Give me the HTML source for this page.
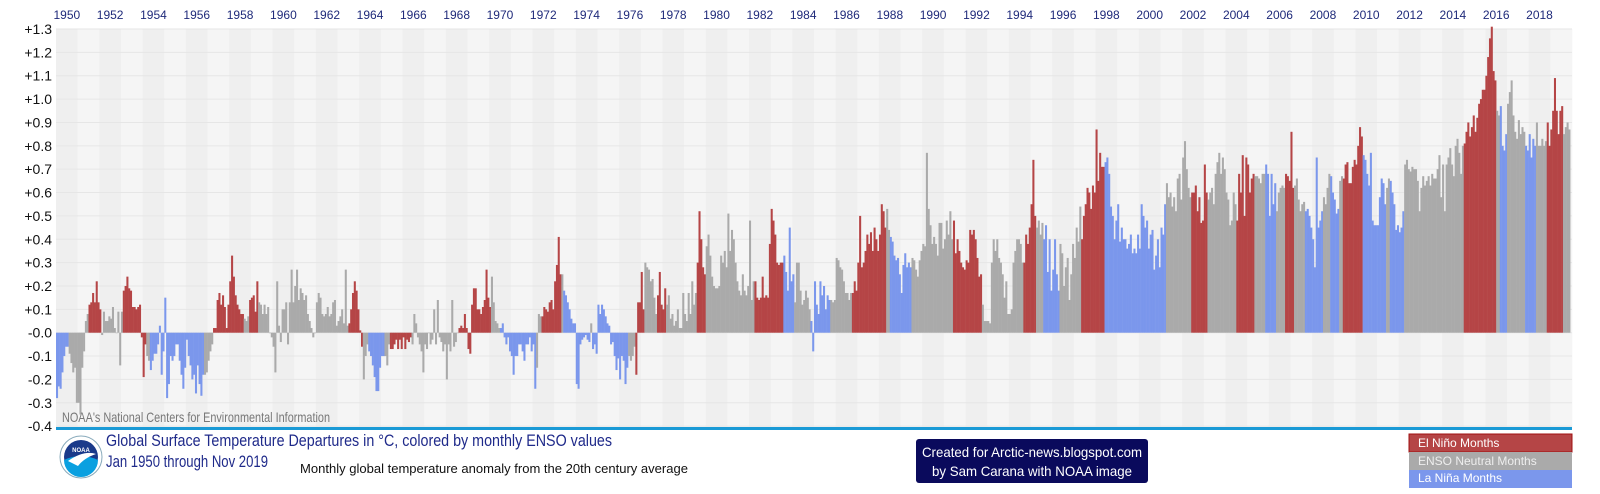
<!DOCTYPE html>
<html><head><meta charset="utf-8"><style>
body{margin:0;background:#fff;width:1600px;height:494px;overflow:hidden;font-family:"Liberation Sans",sans-serif}
svg{display:block}
</style></head><body>
<svg id="chart" width="1600" height="494" viewBox="0 0 1600 494" xmlns="http://www.w3.org/2000/svg">
<g id="bg"></g>
<g id="grid"></g>
<g id="bars"></g>
<g id="xt" font-size="12" fill="#1f2a7a" text-anchor="middle"></g>
<g id="yt" font-size="14" fill="#111" text-anchor="end"></g>
<text x="62" y="422" font-size="14" fill="#777" textLength="268" lengthAdjust="spacingAndGlyphs">NOAA's National Centers for Environmental Information</text>
<rect x="56" y="427" width="1516" height="3" fill="#1a9ad6"/>
<g>
<circle cx="81" cy="457" r="21" fill="#fff" stroke="#8ab" stroke-width="1"/>
<circle cx="81" cy="457" r="17" fill="#1a3a8a"/>
<path d="M64 460 Q81 452 98 460 A17 17 0 0 1 64 460Z" fill="#0aa0e0"/>
<path d="M68 461 Q84 450 96 454 Q84 458 78 466Z" fill="#fff"/>
<text x="81" y="452" font-size="6" fill="#fff" text-anchor="middle" font-weight="bold">NOAA</text>
</g>
<text x="106" y="446" font-size="17" fill="#1f2a8a" textLength="506" lengthAdjust="spacingAndGlyphs">Global Surface Temperature Departures in °C, colored by monthly ENSO values</text>
<text x="106" y="467" font-size="17" fill="#1f2a8a" textLength="162" lengthAdjust="spacingAndGlyphs">Jan 1950 through Nov 2019</text>
<text x="300" y="473" font-size="13" fill="#111" textLength="388" lengthAdjust="spacingAndGlyphs">Monthly global temperature anomaly from the 20th century average</text>
<g>
<rect x="916" y="439" width="232" height="44" rx="3" fill="#0a0a5c"/>
<text x="1032" y="457" font-size="14" fill="#fff" text-anchor="middle" textLength="220" lengthAdjust="spacingAndGlyphs">Created for Arctic-news.blogspot.com</text>
<text x="1032" y="476" font-size="14" fill="#fff" text-anchor="middle" textLength="200" lengthAdjust="spacingAndGlyphs">by Sam Carana with NOAA image</text>
</g>
<g font-size="12" fill="#fff">
<rect x="1409" y="434" width="163" height="18" fill="#b54546" stroke="#a01010"/>
<text x="1418" y="447">El Niño Months</text>
<rect x="1409" y="452" width="163" height="18" fill="#aaaaaa"/>
<text x="1418" y="465" fill="#eee">ENSO Neutral Months</text>
<rect x="1409" y="470" width="163" height="18" fill="#7b97ec"/>
<text x="1418" y="482">La Niña Months</text>
</g>
</svg>
<script>
const startYear = 1950;
const yTicks = [1.3,1.2,1.1,1.0,0.9,0.8,0.7,0.6,0.5,0.4,0.3,0.2,0.1,0.0,-0.1,-0.2,-0.3,-0.4];
const yTickLabels = ["+1.3","+1.2","+1.1","+1.0","+0.9","+0.8","+0.7","+0.6","+0.5","+0.4","+0.3","+0.2","+0.1","-0.0","-0.1","-0.2","-0.3","-0.4"];
const xTickYears = [1950,1952,1954,1956,1958,1960,1962,1964,1966,1968,1970,1972,1974,1976,1978,1980,1982,1984,1986,1988,1990,1992,1994,1996,1998,2000,2002,2004,2006,2008,2010,2012,2014,2016,2018];
// monthly anomalies in hundredths of °C, Jan 1950 – Nov 2019
const anomaly = [
-28,-23,-24,-17,-10,-6,-6,-9,-13,-17,-15,-30,
-30,-35,-15,-8,5,8,12,13,17,13,22,13,
10,-1,9,5,5,7,6,11,2,0,9,-14,
9,18,20,24,19,18,11,11,10,11,12,-2,
-19,-5,-10,-12,-16,-12,-9,-9,-5,3,-18,-8,
15,-28,-22,-10,-12,-10,-5,-5,-12,-18,-24,-15,
-3,-10,-14,-20,-18,-26,-14,-22,-27,-18,-18,-17,
-12,-8,-5,2,2,14,17,12,16,11,2,12,
22,33,24,16,12,10,8,8,6,5,7,14,
15,16,9,22,13,12,8,12,8,11,0,-2,
-6,-17,22,3,-4,10,10,13,-5,13,27,13,
20,27,14,19,17,14,16,8,5,2,-2,0,
13,17,15,8,7,8,11,7,8,13,14,3,
5,7,10,4,27,3,4,10,17,22,18,10,
1,-6,-20,-10,-5,-8,-10,-14,-19,-25,-25,-15,
-10,-10,-10,-14,-5,-7,-7,-5,-3,-7,-3,-7,
-2,-7,-3,-4,-2,-5,8,4,-2,-5,-8,-17,
-5,-7,0,-5,-3,10,-5,14,-2,-4,-8,-5,
-20,-5,-8,14,-6,-4,0,2,3,2,8,2,
-7,-9,12,19,19,10,10,8,11,14,27,15,
11,24,13,5,4,2,2,4,-2,-5,-2,-8,
-10,-18,-10,-10,-5,-5,-8,-12,-5,-5,-2,-8,
-5,-24,-15,8,7,7,11,10,9,13,14,10,
22,29,41,25,25,18,16,13,10,6,4,4,
-22,-24,-5,-3,-2,-1,-3,-4,4,-7,-5,-9,
12,8,12,10,7,4,3,-5,-4,-10,-16,-11,
-20,-10,-12,-22,-15,-10,-12,-10,-6,-18,13,13,
26,10,30,28,27,22,23,15,8,16,26,12,
10,19,12,16,6,8,3,5,10,2,2,17,
8,5,17,8,22,12,17,30,52,40,28,25,
37,42,33,24,20,19,19,20,33,30,35,28,
51,35,44,40,30,22,18,16,25,18,16,20,
48,14,22,22,15,14,15,24,15,16,15,38,
53,48,42,30,29,30,30,33,26,18,45,22,
25,13,30,30,18,12,14,18,15,10,5,-8,
22,12,8,22,16,20,10,16,14,14,13,14,
32,31,28,27,22,17,17,14,17,17,22,18,
30,50,28,30,35,42,38,43,35,45,40,35,
42,55,52,45,53,44,41,39,33,31,32,25,
17,29,34,28,30,28,32,31,27,24,31,35,
38,37,77,53,46,38,41,38,33,47,47,36,
40,48,42,52,40,48,34,40,35,30,28,27,
31,30,44,42,44,40,32,24,25,12,5,5,
5,4,30,40,35,40,32,30,25,15,22,8,
8,10,30,35,40,40,38,30,30,42,38,45,
55,74,50,45,48,42,47,40,46,26,40,18,
27,40,25,18,38,34,20,28,32,14,25,38,
32,45,39,54,40,50,55,62,60,53,63,60,
87,65,77,71,71,73,75,68,54,50,40,48,
55,39,45,40,40,36,38,42,34,36,34,42,
36,55,50,45,48,36,42,44,27,33,40,28,
45,42,55,64,58,60,54,58,52,66,68,57,
75,82,70,62,58,60,60,63,52,58,47,48,
72,60,57,60,62,55,68,73,77,68,75,70,
60,57,46,48,60,55,48,68,60,76,50,75,
72,60,66,68,67,67,66,64,68,68,72,68,
50,68,55,64,52,60,62,63,62,68,67,65,
86,62,63,66,57,52,55,56,52,53,50,45,
40,28,75,45,48,52,58,55,62,68,67,60,
57,51,53,65,67,66,72,73,64,64,71,74,
72,80,88,84,76,74,68,63,77,48,46,46,
46,58,66,64,55,62,66,65,60,55,44,46,
43,45,52,72,74,70,69,71,70,70,65,52,
62,67,63,65,67,63,68,66,66,70,76,58,
72,52,72,75,79,72,67,80,83,77,68,80,
81,86,90,84,88,93,86,92,98,100,104,104,
110,118,126,131,112,108,95,93,97,80,78,85,
98,103,108,93,86,83,91,85,88,86,80,78,
85,75,83,80,90,80,80,83,80,82,90,80,
87,95,109,95,85,95,97,85,88,90,87
];
// ENSO phase per month: E = El Niño, N = neutral, L = La Niña
const phase = (
"LLLLLLLNNNNN"+"NNNNNNEEEEEE"+"ENNNNNNNNNNN"+"NEEEEEEEEEEE"+"EENNLLLLLLLL"+
"LLLLLLLLLLLL"+"LLLLLLLLLLNN"+"NNNEEEEEEEEE"+"EEEEEEEENNNE"+"EEEENNNNNNNN"+
"NNNNNNNNNNNN"+"NNNNNNNNNNNN"+"NNNNNNNNNNNN"+"NNNNNNEEEEEE"+"EENNNLLLLLLL"+
"LLNNNEEEEEEE"+"EEEEENNNNNNN"+"NNNNNNNNNNNN"+"NNNNNNNEEEEE"+"EEEEEEEEEEEE"+
"ENNNNNLLLLLL"+"LLLLLLLLLLLL"+"LLNNNEEEEEEE"+"EEEENLLLLLLL"+"LLLLLLLLNLLL"+
"LLLLLLLLLLLL"+"LLLLLNNNNEEE"+"EENNNNNNNEEE"+"EENNNNNNNNNN"+"NNNNNNNEEEEE"+
"NNNNNNNNNNNN"+"NNNNNNNNNNNN"+"NNNEEEEEEEEE"+"EEEEEEELLLLL"+"LNNNNNNNNNLL"+
"LLLLLLLLLNNN"+"NNNNNNNNNEEE"+"EEEEEEEEEEEE"+"EEEENNLLLLLL"+"LLLLLLNNNNNN"+
"NNNNNNNNNNNN"+"NNNNNEEEEEEE"+"EEEEEEEEENNN"+"NNNNNNNNNNNN"+"NNNNNNNNEEEE"+
"EEENNNNLLLLL"+"LLLLNNNNNNNN"+"NNNNEEEEEEEE"+"EEEEELLLLLLL"+"LLLLLLLLLLLL"+
"LLLLLLLLLLLL"+"LLLNNNNNNNNN"+"NNNNNEEEEEEE"+"EENNNNNNNNNN"+"NNNNNNEEEEEE"+
"EEEENNNNNNLL"+"LLLLNNNNNEEE"+"EENNNNNNLLLL"+"LLLLLLNNNNLL"+"LLLNNEEEEEEE"+
"EEEELLLLLLLL"+"LLLLLNNLLLLL"+"LLLNNNNNNNNN"+"NNNNNNNNNNNN"+"NNNNNNNNNNNN"+
"EEEEEEEEEEEE"+"EEEEEENNLLLL"+"NNNNNNNNNNLL"+"LLLLNNNNNNEE"+"EEEEEEENNNN"
).split("");

const NS="http://www.w3.org/2000/svg";
const X0=56, YEARW=21.657, MW=YEARW/12, Y0=332.7, PER=233.6, TOP=29, BOT=427;
const xOfMonth=i=>X0+i*MW;
const yOf=v=>Y0-v*PER;
const colors={E:"#b54546",N:"#aaaaaa",L:"#7b97ec"};
function mk(tag,attrs,parent){const e=document.createElementNS(NS,tag);for(const k in attrs)e.setAttribute(k,attrs[k]);parent.appendChild(e);return e;}

const bg=document.getElementById('bg');
for(let y=0;y<70;y++){
  const r=mk('rect',{x:X0+y*YEARW,y:TOP,width:YEARW+0.3,height:BOT-TOP,fill:(y%2===0)?'#efefef':'#f5f5f5'},bg);
  
  
}
const grid=document.getElementById('grid');
yTicks.forEach((t,i)=>{
  const l=mk('line',{x1:X0,x2:X0+70*YEARW,y1:yOf(t),y2:yOf(t),stroke:'#e6e6e6','stroke-width':1},grid);
  
  
  const tx=mk('text',{x:52,y:yOf(t)+5},document.getElementById('yt'));
  tx.textContent=yTickLabels[i];
  
  
});
xTickYears.forEach(yr=>{
  const tx=mk('text',{x:X0+(yr-startYear+0.5)*YEARW,y:19},document.getElementById('xt'));
  tx.textContent=String(yr);
  
  
});
const bars=document.getElementById('bars');
anomaly.forEach((v,i)=>{
  const val=v/100, p=phase[i]||'N';
  const y1=yOf(Math.max(val,0)), y2=yOf(Math.min(val,0));
  const r=mk('rect',{x:xOfMonth(i),y:y1,width:MW+0.25,height:Math.max(y2-y1,0.5),fill:colors[p]},bars);
  
  
});
</script>
</body></html>
